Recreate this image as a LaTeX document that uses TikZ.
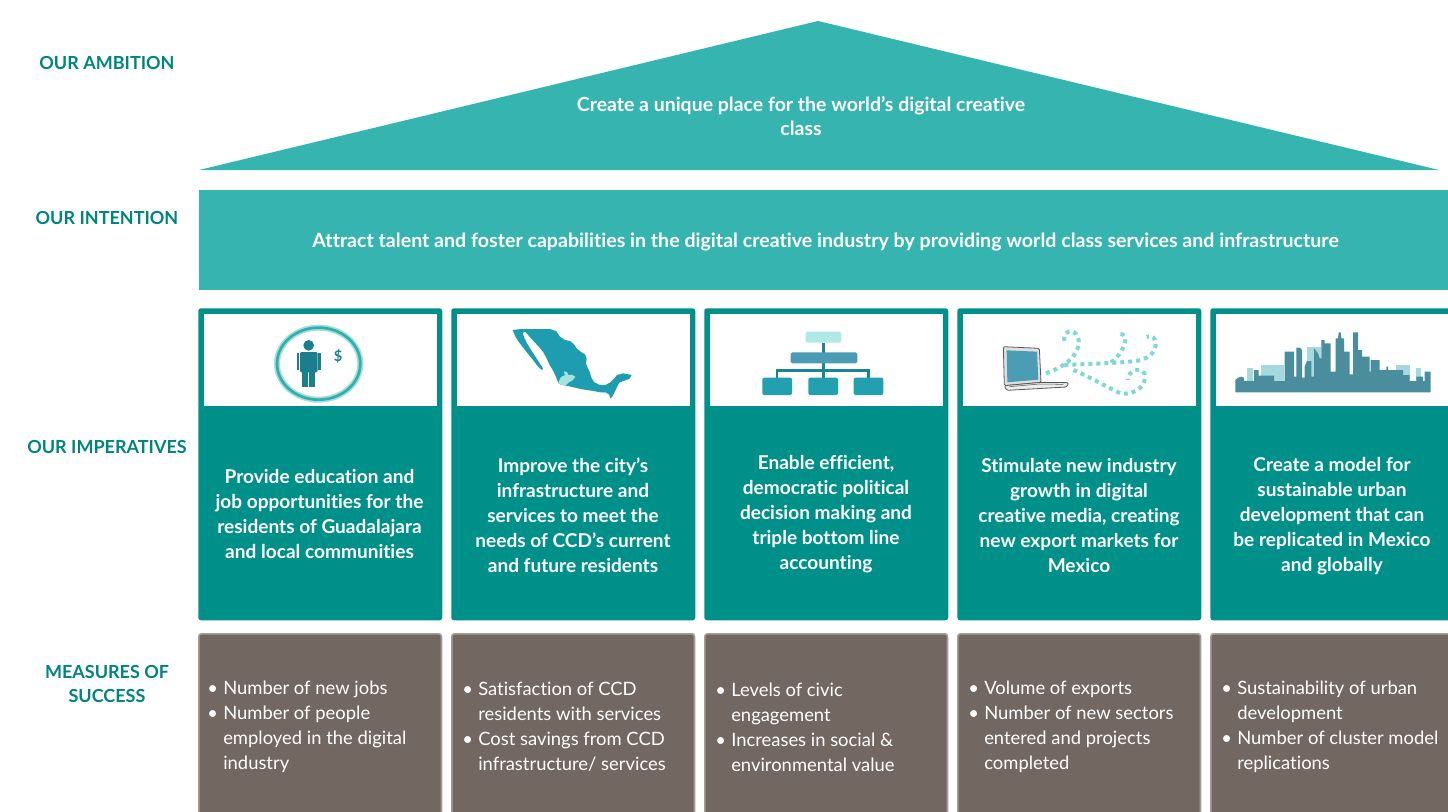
\documentclass[tikz,border=0pt]{standalone}
\usepackage{fontspec}
\setmainfont{Lato}[Ligatures=NoCommon]
\definecolor{roofteal}{HTML}{36B4AF}
\definecolor{pillarteal}{HTML}{00908A}
\definecolor{labelteal}{HTML}{00857E}
\definecolor{measurefill}{HTML}{736762}
\definecolor{measureedge}{HTML}{A69C97}
\definecolor{iconring}{HTML}{2FB0AC}
\definecolor{iconringsoft}{HTML}{A6DEDB}
\definecolor{icondark}{HTML}{1B7E8F}
\definecolor{mapblue}{HTML}{1F9DB0}
\definecolor{maplight}{HTML}{A6E3E0}
\definecolor{orgtop}{HTML}{AEE9E6}
\definecolor{orgmid}{HTML}{4A9CB4}
\definecolor{orgbottom}{HTML}{22A0B0}
\definecolor{orgline}{HTML}{1A8595}
\definecolor{screenblue}{HTML}{4B9DB5}
\definecolor{dotteal}{HTML}{7ED8D5}
\definecolor{skydark}{HTML}{4A8D9D}
\definecolor{skylight}{HTML}{A3D9DF}
\newcommand{\bl}[1]{\makebox[12pt][l]{\textbullet}#1}
\newcommand{\cn}[1]{\hspace*{12pt}#1}
\begin{document}
\begin{tikzpicture}[x=0.75pt,y=-0.75pt,
  sectionlabel/.style={font=\bfseries\fontsize{13.5}{18}\selectfont, text=labelteal, align=center, inner sep=0pt},
  rooftext/.style={font=\bfseries\fontsize{14.6}{18}\selectfont, text=white, align=center, inner sep=0pt},
  pillarbox/.style={fill=pillarteal, rounded corners=2pt, minimum width=183pt, minimum height=234pt, anchor=north west, inner sep=0pt},
  panel/.style={fill=white, minimum width=174.4pt, minimum height=68.6pt, anchor=north west, inner sep=0pt},
  pillartext/.style={font=\bfseries\fontsize{14.3}{18.75}\selectfont, text=white, align=center, inner sep=0pt},
  measurebox/.style={fill=measurefill, draw=measureedge, line width=1.2pt, rounded corners=2pt, minimum width=182pt, minimum height=160pt, anchor=north west, inner sep=0pt},
  measuretext/.style={font=\fontsize{13.8}{18.75}\selectfont, text=white, align=left, inner sep=0pt, anchor=west},
  dotpath/.style={dotteal, line width=3pt, dash pattern=on 3pt off 3pt}
]
\useasboundingbox (0,0) rectangle (1448,811);
\clip (0,0) rectangle (1448,811);

% ---- left column labels
\node[sectionlabel] (lblamb) at (107,63) {OUR AMBITION};
\node[sectionlabel] (lblint) at (107,218) {OUR INTENTION};
\node[sectionlabel] (lblimp) at (107,447) {OUR IMPERATIVES};
\node[sectionlabel] (lblmea) at (107,684) {MEASURES OF\\SUCCESS};

% ---- roof
\fill[roofteal] (199,170) -- (818,21) -- (1439,170) -- cycle;
\node[rooftext] (ambition) at (801,116)
  {Create a unique place for the world’s digital creative\\class};

% ---- intention band
\fill[roofteal] (199,189.5) rectangle (1460,289.5);
\node[rooftext, font=\bfseries\fontsize{14.7}{18}\selectfont] (intention) at (825.5,242)
  {Attract talent and foster capabilities in the digital creative industry by providing world class services and infrastructure};

% ---- pillars and measures
\foreach \i/\lx in {1/198,2/451,3/704,4/957,5/1210}{
  \node[pillarbox] (pil\i) at (\lx,308) {};
  \node[panel] (pan\i) at (\lx+6,314) {};
  \node[measurebox] (mea\i) at (\lx,633) {};
}

\node[pillartext] (imp1) at (319.5,514) {Provide education and\\job opportunities for the\\residents of Guadalajara\\and local communities};
\node[pillartext] (imp2) at (573,515.5) {Improve the city’s\\infrastructure and\\services to meet the\\needs of CCD’s current\\and future residents};
\node[pillartext] (imp3) at (826,514.5) {Enable efficient,\\democratic political\\decision making and\\triple bottom line\\accounting};
\node[pillartext] (imp4) at (1079,515.5) {Stimulate new industry\\growth in digital\\creative media, creating\\new export markets for\\Mexico};
\node[pillartext] (imp5) at (1332,516.5) {Create a model for\\sustainable urban\\development that can\\be replicated in Mexico\\and globally};

\node[measuretext] (mtx1) at (207,727) {\bl{Number of new jobs}\\\bl{Number of people}\\\cn{employed in the digital}\\\cn{industry}};
\node[measuretext] (mtx2) at (462,727) {\bl{Satisfaction of CCD}\\\cn{residents with services}\\\bl{Cost savings from CCD}\\\cn{infrastructure/ services}};
\node[measuretext] (mtx3) at (715,727) {\bl{Levels of civic}\\\cn{engagement}\\\bl{Increases in social \&}\\\cn{environmental value}};
\node[measuretext] (mtx4) at (968,727) {\bl{Volume of exports}\\\bl{Number of new sectors}\\\cn{entered and projects}\\\cn{completed}};
\node[measuretext] (mtx5) at (1221,727) {\bl{Sustainability of urban}\\\cn{development}\\\bl{Number of cluster model}\\\cn{replications}};

% ---- icon 1: person with dollar sign
\begin{scope}[shift={(196,305)}, x=0.25pt, y=-0.25pt]
  \draw[iconringsoft, line width=4.5pt] (368,176) ellipse (125 and 108);
  \draw[iconring, line width=2pt] (368,176) ellipse (125 and 108);
  \fill[icondark] (338,121) circle (16);
  \fill[icondark, rounded corners=1pt] (312,141) rectangle (365,202);
  \fill[icondark] (302,143) rectangle (310,196);
  \fill[icondark] (367,143) rectangle (375,196);
  \fill[icondark] (318,200) rectangle (336,246);
  \fill[icondark] (340,200) rectangle (358,246);
  \node[font=\bfseries\fontsize{11}{11}\selectfont, text=icondark, inner sep=0pt] (dollar) at (426,155) {\$};
\end{scope}

% ---- icon 2: map of Mexico
\begin{scope}[shift={(450,305)}, x=0.25pt, y=-0.25pt]
  \fill[mapblue] (188,75) -- (215,72) -- (300,72) -- (318,78) -- (330,95) -- (345,105) -- (360,108)
    -- (372,118) -- (380,130) -- (392,140) -- (405,148) -- (410,162) -- (408,176) -- (413,188)
    -- (420,202) -- (423,216) -- (432,231) -- (447,239) -- (466,240) -- (481,232) -- (493,220)
    -- (501,210) -- (520,205) -- (545,210) -- (538,222) -- (520,228) -- (508,233) -- (501,246)
    -- (495,259) -- (489,271) -- (482,281) -- (477,268) -- (466,262) -- (450,262) -- (430,258)
    -- (410,255) -- (392,252) -- (375,248) -- (358,244) -- (340,240) -- (325,235) -- (318,215)
    -- (308,195) -- (298,178) -- (290,160) -- (280,142) -- (268,127) -- (255,113) -- (243,100)
    -- (233,88) -- (225,80) -- (218,84) -- (222,96) -- (230,113) -- (242,133) -- (255,153)
    -- (268,173) -- (279,191) -- (276,195) -- (268,189) -- (258,177) -- (246,161) -- (232,144)
    -- (218,126) -- (205,109) -- (195,92) -- cycle;
  \fill[maplight] (325,232) -- (333,216) -- (344,211) -- (342,199) -- (351,201) -- (355,210)
    -- (366,209) -- (376,215) -- (368,226) -- (356,232) -- (346,242) -- (331,240) -- cycle;
\end{scope}

% ---- icon 3: organisation chart
\begin{scope}[shift={(703,305)}, x=0.25pt, y=-0.25pt]
  \draw[orgline, line width=2pt] (361,113) -- (361,218);
  \draw[orgline, line width=2pt] (222,218) -- (222,197) -- (497,197) -- (497,218);
  \fill[orgtop, rounded corners=1.2pt] (308,80) rectangle (415,113);
  \fill[orgmid, rounded corners=1.2pt] (263,142) rectangle (463,175);
  \fill[orgbottom, rounded corners=1.5pt] (178,218) rectangle (267,270);
  \fill[orgbottom, rounded corners=1.5pt] (316,218) rectangle (405,270);
  \fill[orgbottom, rounded corners=1.5pt] (452,218) rectangle (541,270);
\end{scope}

% ---- icon 4: laptop with dotted trails
\begin{scope}[shift={(956,305)}, x=0.25pt, y=-0.25pt]
  \filldraw[fill=gray!25, draw=gray!70!black, line width=0.6pt, rounded corners=1pt]
    (142,125) -- (250,130) -- (255,232) -- (145,242) -- cycle;
  \fill[screenblue] (152,136) -- (243,140) -- (247,224) -- (154,232) -- cycle;
  \filldraw[fill=gray!15, draw=gray!70!black, line width=0.6pt, rounded corners=1pt]
    (145,242) -- (255,232) -- (338,233) -- (332,246) -- (152,256) -- cycle;
  \draw[gray!70!black, line width=0.4pt] (160,245) -- (250,237) -- (322,238);
  \draw[dotpath] (270,205) .. controls (310,190) and (350,170) .. (365,130)
    .. controls (378,95) and (350,65) .. (330,85) .. controls (320,95) and (325,110) .. (330,112);
  \draw[dotpath] (325,180) .. controls (400,176) and (480,175) .. (540,168)
    .. controls (590,160) and (605,130) .. (597,105) .. controls (592,92) and (580,92) .. (572,96);
  \draw[dotpath] (465,172) .. controls (490,155) and (510,120) .. (508,100) .. controls (505,88) and (495,85) .. (488,86);
  \draw[dotpath] (352,195) .. controls (400,215) and (460,250) .. (495,266)
    .. controls (540,270) and (575,240) .. (565,205) .. controls (555,185) and (515,195) .. (515,225);
\end{scope}

% ---- icon 5: city skyline
\begin{scope}[shift={(1208,305)}, x=0.25pt, y=-0.25pt]
  \fill[skylight] (118,188) rectangle (135,228);
  \fill[skylight] (158,180) rectangle (228,228);
  \fill[skylight] (297,126) rectangle (340,215);
  \fill[skylight] (565,180) rectangle (605,228);
  \fill[skylight] (625,188) rectangle (640,228);
  \fill[skydark] (82,262) -- (82,225) -- (90,218) -- (100,215) -- (108,218) -- (108,228) -- (138,228)
    -- (138,195) -- (152,195) -- (152,212) -- (198,212) -- (198,228) -- (230,228) -- (230,140)
    -- (258,140) -- (258,215) -- (265,215) -- (265,128) -- (275,128) -- (282,135) -- (282,218)
    -- (290,218) -- (290,185) -- (297,168) -- (310,168) -- (310,215) -- (318,215) -- (318,130)
    -- (330,145) -- (335,160) -- (340,160) -- (340,105) -- (350,105) -- (350,115) -- (368,115)
    -- (368,200) -- (383,200) -- (383,100) -- (390,100) -- (392,82) -- (398,82) -- (400,100)
    -- (408,100) -- (408,140) -- (425,140) -- (425,208) -- (435,208) -- (435,82) -- (450,82)
    -- (450,135) -- (462,135) -- (462,155) -- (485,155) -- (485,200) -- (488,200) -- (488,165)
    -- (515,165) -- (515,195) -- (535,195) -- (535,185) -- (540,185) -- (540,195) -- (585,195)
    -- (585,210) -- (605,210) -- (605,228) -- (625,228) -- (625,215) -- (645,215) -- (645,228)
    -- (650,228) -- (650,200) -- (668,200) -- (668,262) -- cycle;
\end{scope}
\end{tikzpicture}
\end{document}
